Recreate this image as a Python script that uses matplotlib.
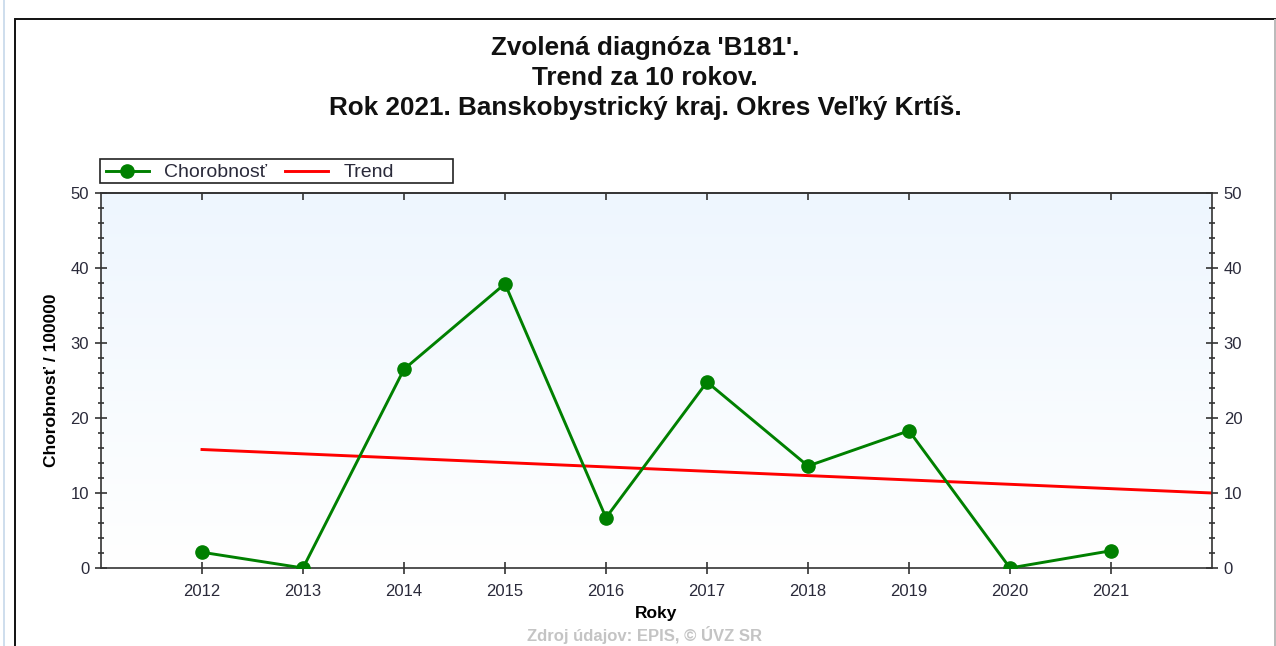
import numpy as np
import matplotlib
matplotlib.use('Agg')
import matplotlib.pyplot as plt
from matplotlib.patches import Rectangle
from matplotlib.ticker import MultipleLocator

plt.rcParams['font.family'] = ['Liberation Sans', 'DejaVu Sans']

# Data
years = [2012, 2013, 2014, 2015, 2016, 2017, 2018, 2019, 2020, 2021]
morbidity = [2.1, 0.0, 26.5, 37.9, 6.7, 24.8, 13.6, 18.3, 0.0, 2.3]
trend_years = [2012, 2022]
trend_values = [15.8, 10.0]

title_lines = [
    "Zvolená diagnóza 'B181'.",
    "Trend za 10 rokov.",
    "Rok 2021. Banskobystrický kraj. Okres Veľký Krtíš.",
]

W, H = 1276, 646
fig = plt.figure(figsize=(W / 100, H / 100), dpi=100)
fig.patch.set_facecolor('white')

# outer frame of the web widget
fig.add_artist(Rectangle((15 / W, -0.01), (1275 - 15) / W, (H - 19) / H + 0.01,
                         transform=fig.transFigure, fill=False,
                         edgecolor='#111111', linewidth=1.4))
fig.add_artist(Rectangle((1274 / W, -0.01), 2 / W, (H - 19) / H + 0.01,
                         transform=fig.transFigure, facecolor='#bbbbbb',
                         edgecolor='none'))
fig.add_artist(plt.Line2D([3.5 / W, 3.5 / W], [0, 1], transform=fig.transFigure,
                          color='#c6d8ea', linewidth=1.2))

ax = fig.add_axes([101 / W, (H - 568) / H, (1212 - 101) / W, (568 - 193) / H])

# gradient background (light blue at top to white at bottom)
grad = np.linspace(0, 1, 256).reshape(-1, 1)
top = np.array([238, 246, 254]) / 255
bottom = np.array([255, 255, 255]) / 255
img = top + (bottom - top) * grad[..., None]
ax.imshow(img, extent=[0, 1, 0, 1], transform=ax.transAxes, aspect='auto',
          zorder=0, interpolation='bilinear')

ax.plot(years, morbidity, color='#008000', linewidth=2.1, marker='o',
        markersize=9.5, label='Chorobnosť', zorder=3)
ax.plot(trend_years, trend_values, color='#ff0000', linewidth=2.1,
        label='Trend', zorder=2)

ax.set_xlim(2011, 2022)
ax.set_ylim(0, 50)
ax.set_xticks(years)
ax.yaxis.set_major_locator(MultipleLocator(10))
ax.yaxis.set_minor_locator(MultipleLocator(2))

for s in ax.spines.values():
    s.set_color('#333333')
    s.set_linewidth(1.2)

ax.tick_params(axis='x', direction='inout', length=9, width=1.2, color='#333333',
               labelsize=12, labelcolor='#2a2a3a', pad=7)
ax.tick_params(axis='y', which='major', direction='inout', length=9, width=1.2,
               color='#333333', labelsize=12, labelcolor='#2a2a3a',
               right=True, labelright=True, pad=4)
ax.tick_params(axis='y', which='minor', direction='inout', length=4, width=1.2,
               color='#333333', right=True)

top_ax = ax.secondary_xaxis('top')
top_ax.set_xticks(years)
top_ax.tick_params(direction='in', length=5, width=1.2, color='#333333',
                   labeltop=False)
top_ax.spines['top'].set_color('#333333')
top_ax.spines['top'].set_linewidth(1.2)

ax.set_xlabel('Roky', fontsize=12.5, fontweight='bold', labelpad=5)
ax.set_ylabel('Chorobnosť / 100000', fontsize=12.5, fontweight='bold', labelpad=8)

# legend: entries without frame, box drawn separately (wider than its content)
leg = ax.legend(loc='center left', bbox_to_anchor=(106 / W, 1 - 172.5 / H),
                bbox_transform=fig.transFigure, ncol=2, frameon=False,
                fontsize=14, handlelength=2.2, columnspacing=0.95, borderpad=0.0,
                handletextpad=0.78, borderaxespad=0.0)
for t in leg.get_texts():
    t.set_color('#2a2a3a')
fig.add_artist(Rectangle((100 / W, 1 - 183 / H), (453 - 100) / W, 24 / H,
                         transform=fig.transFigure, fill=False,
                         edgecolor='#222222', linewidth=1.2))

# title lines
for i, line in enumerate(title_lines):
    fig.text(645 / W, 1 - (48 + 30 * i) / H, line, ha='center', va='center',
             fontsize=18.8, fontweight='bold', color='#111111')

# source note at the bottom edge
fig.text(645 / W, 1.5 / H, 'Zdroj údajov: EPIS, © ÚVZ SR', ha='center',
         va='bottom', fontsize=12, fontweight='bold', color='#c4c4c4')

fig.savefig('out.png', dpi=100)
